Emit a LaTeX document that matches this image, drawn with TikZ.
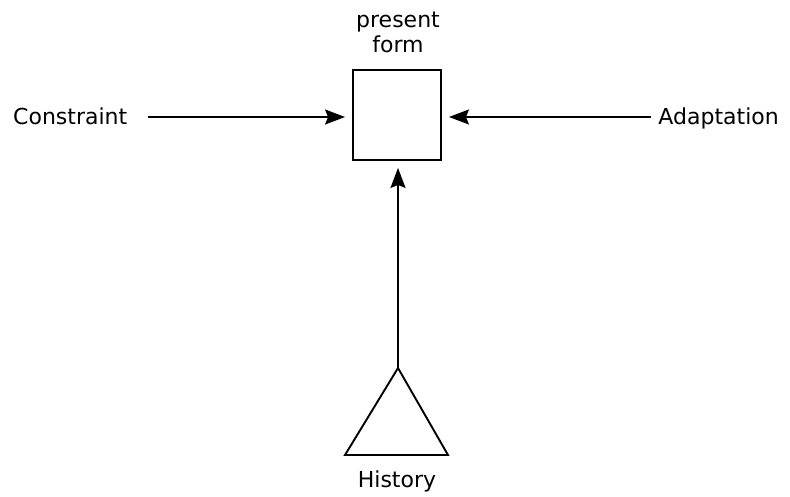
\documentclass[tikz,border=0pt]{standalone}
\usepackage{fontspec}
\setmainfont{DejaVu Sans}
\usetikzlibrary{arrows.meta}
\begin{document}
\begin{tikzpicture}[x=1pt,y=-1pt,
  lbl/.style={font=\fontsize{22}{25}\selectfont, inner sep=0pt},
  conn/.style={line width=1.7pt, shorten >=7pt, -{Stealth[length=20pt,width=15pt,inset=3pt]}},
  shp/.style={line width=1.9pt}]
\useasboundingbox (0,0) rectangle (790,497);
\node[shp, draw, minimum width=88pt, minimum height=90pt, inner sep=0pt] (box) at (397,115) {};
\node[lbl, anchor=base] (present) at (398,28) {present};
\node[lbl, anchor=base] (form) at (398,53) {form};
\node[lbl, anchor=base west] (con) at (13,125) {Constraint};
\node[lbl, anchor=base east] (ada) at (779,125) {Adaptation};
\node[lbl, anchor=base] (hist) at (397,487) {History};
\coordinate (apex) at (398,368);
\coordinate (bl) at (345,455);
\coordinate (br) at (448,455);
\draw[shp, line join=miter] (apex) -- (bl) -- (br) -- cycle;
\coordinate (cs) at (148,117);
\coordinate (as) at (651,117);
\draw[conn] (cs) -- (box.west |- cs);
\draw[conn] (as) -- (box.east |- as);
\draw[conn] (apex) -- (apex |- box.south);
\end{tikzpicture}
\end{document}
